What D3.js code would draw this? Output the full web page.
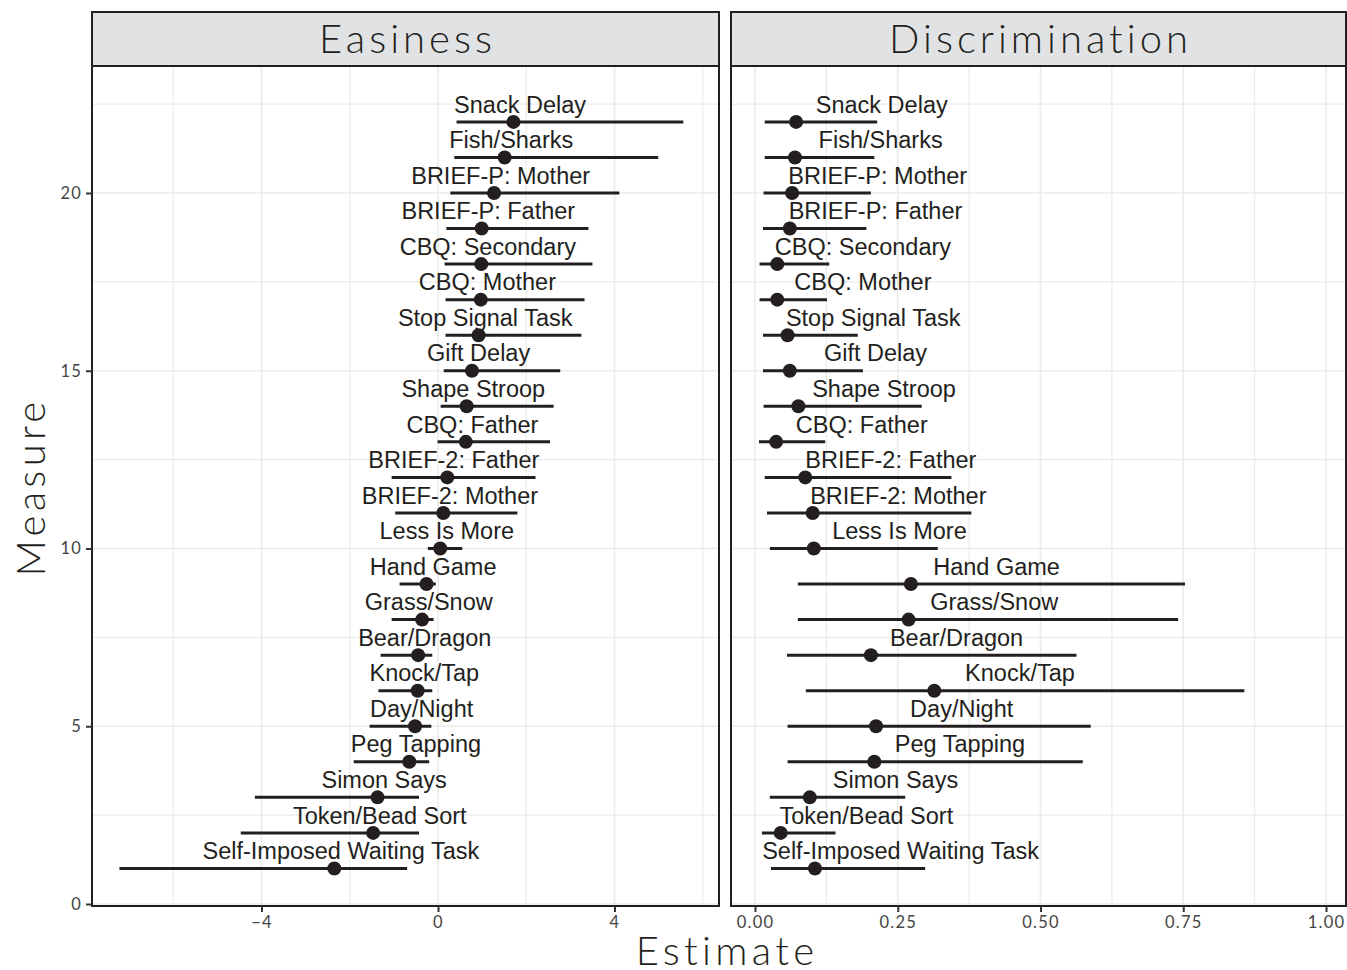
<!DOCTYPE html>
<html>
<head>
<meta charset="UTF-8" />
<style>
  body { margin: 0; background: #fff; }
  .lab { font: 23.5px "Liberation Sans", Arial, sans-serif; fill: #231f20; text-anchor: middle; }
  .tick text { font: 400 16.5px Lato, "Noto Sans", sans-serif; fill: #444; letter-spacing: 1.2px; }
  .strip { font: 300 40px Lato, "Noto Sans", sans-serif; fill: #231f20; text-anchor: middle; letter-spacing: 4px; }
  .title { font: 300 40px Lato, "Noto Sans", sans-serif; fill: #231f20; text-anchor: middle; letter-spacing: 4.3px; }
</style>
<script src="https://d3js.org/d3.v7.min.js"></script>
</head>
<body>
<svg width="1347" height="970"></svg>
<script>
// measures from y = 1 (bottom) to y = 22 (top)
var measures = ["Self-Imposed Waiting Task", "Token/Bead Sort", "Simon Says", "Peg Tapping",
  "Day/Night", "Knock/Tap", "Bear/Dragon", "Grass/Snow", "Hand Game", "Less Is More",
  "BRIEF-2: Mother", "BRIEF-2: Father", "CBQ: Father", "Shape Stroop", "Gift Delay",
  "Stop Signal Task", "CBQ: Mother", "CBQ: Secondary", "BRIEF-P: Father", "BRIEF-P: Mother",
  "Fish/Sharks", "Snack Delay"];

var easeEst = [-2.35, -1.47, -1.37, -0.65, -0.52, -0.46, -0.45, -0.36, -0.26, 0.05, 0.12,
  0.21, 0.63, 0.65, 0.77, 0.92, 0.97, 0.98, 0.99, 1.27, 1.51, 1.71];
var easeLo = [-7.22, -4.47, -4.15, -1.91, -1.55, -1.35, -1.30, -1.05, -0.87, -0.23, -0.97,
  -1.05, -0.01, 0.06, 0.13, 0.17, 0.17, 0.15, 0.19, 0.28, 0.37, 0.42];
var easeHi = [-0.70, -0.43, -0.43, -0.20, -0.15, -0.13, -0.13, -0.10, -0.05, 0.55, 1.80,
  2.21, 2.54, 2.62, 2.77, 3.25, 3.32, 3.50, 3.41, 4.11, 4.99, 5.56];

var discEst = [0.105, 0.045, 0.096, 0.209, 0.212, 0.314, 0.203, 0.269, 0.273, 0.103, 0.101,
  0.088, 0.037, 0.076, 0.061, 0.057, 0.039, 0.039, 0.061, 0.065, 0.070, 0.072];
var discLo = [0.028, 0.012, 0.026, 0.057, 0.057, 0.089, 0.056, 0.075, 0.075, 0.026, 0.021,
  0.017, 0.007, 0.015, 0.014, 0.014, 0.008, 0.008, 0.014, 0.015, 0.017, 0.017];
var discHi = [0.298, 0.141, 0.263, 0.574, 0.588, 0.857, 0.563, 0.741, 0.753, 0.320, 0.379,
  0.344, 0.123, 0.292, 0.189, 0.180, 0.126, 0.130, 0.195, 0.203, 0.209, 0.214];

var yTicks = [0, 5, 10, 15, 20];
var yMinor = [2.5, 7.5, 12.5, 17.5, 22.5];
var easeTicks = [-4, 0, 4];
var easeMinor = [-6, -2, 2, 6];
var discTicks = [0, 0.25, 0.5, 0.75, 1];
var discMinor = [0.125, 0.375, 0.625, 0.875];

var svg = d3.select("svg");
var panelTop = 66, panelBottom = 906, stripTop = 12;
var ink = "#231f20";

var y = d3.scaleLinear().domain([0, 20]).range([904, 193]);

var panels = [
  { name: "Easiness", x0: 92, x1: 719, est: easeEst, lo: easeLo, hi: easeHi,
    ticks: easeTicks, minor: easeMinor, fmt: d3.format("d"), nudge: 0.15,
    x: d3.scaleLinear().domain([-4, 4]).range([261.5, 614.5]) },
  { name: "Discrimination", x0: 731, x1: 1346, est: discEst, lo: discLo, hi: discHi,
    ticks: discTicks, minor: discMinor, fmt: d3.format(".2f"), nudge: 0.15,
    x: d3.scaleLinear().domain([0, 1]).range([755, 1326]) }
];

panels.forEach(function(p) {
  var g = svg.append("g");
  var rows = measures.map(function(m, i) {
    return { m: m, y: i + 1, est: p.est[i], lo: p.lo[i], hi: p.hi[i] };
  });

  // grid
  var grid = g.append("g").attr("stroke", "#ebebeb");
  grid.selectAll(".gy").data(yTicks.concat(yMinor)).enter().append("line")
      .attr("x1", p.x0).attr("x2", p.x1)
      .attr("y1", function(d) { return y(d); }).attr("y2", function(d) { return y(d); })
      .attr("stroke-width", function(d) { return d % 5 === 0 ? 1.6 : 1.2; });
  grid.selectAll(".gx").data(p.ticks.concat(p.minor)).enter().append("line")
      .attr("y1", panelTop).attr("y2", panelBottom)
      .attr("x1", function(d) { return p.x(d); }).attr("x2", function(d) { return p.x(d); })
      .attr("stroke-width", function(d) { return p.ticks.indexOf(d) >= 0 ? 1.6 : 1.2; });

  // intervals
  g.selectAll(".ci").data(rows).enter().append("line")
      .attr("x1", function(d) { return p.x(d.lo); })
      .attr("x2", function(d) { return p.x(d.hi); })
      .attr("y1", function(d) { return y(d.y); })
      .attr("y2", function(d) { return y(d.y); })
      .attr("stroke", ink).attr("stroke-width", 3);

  g.selectAll(".pt").data(rows).enter().append("circle")
      .attr("cx", function(d) { return p.x(d.est); })
      .attr("cy", function(d) { return y(d.y); })
      .attr("r", 7).attr("fill", ink);

  g.selectAll(".lab").data(rows).enter().append("text")
      .attr("class", "lab")
      .attr("x", function(d) { return p.x(d.est + p.nudge); })
      .attr("y", function(d) { return y(d.y + 0.5); })
      .attr("dy", "0.36em")
      .text(function(d) { return d.m; });

  // panel border and strip
  g.append("rect").attr("x", p.x0).attr("y", panelTop).attr("width", p.x1 - p.x0)
      .attr("height", panelBottom - panelTop).attr("fill", "none").attr("stroke", ink).attr("stroke-width", 2);
  g.append("rect").attr("x", p.x0).attr("y", stripTop).attr("width", p.x1 - p.x0)
      .attr("height", panelTop - stripTop).attr("fill", "#e1e2e4").attr("stroke", ink).attr("stroke-width", 2);
  g.append("text").attr("class", "strip")
      .attr("x", (p.x0 + p.x1) / 2 + 2).attr("y", 53).text(p.name);

  // x axis
  g.append("g").attr("transform", "translate(0," + panelBottom + ")")
      .call(d3.axisBottom(p.x).tickValues(p.ticks).tickFormat(p.fmt).tickSize(6).tickPadding(4))
      .call(function(a) {
        a.select(".domain").remove();
        a.selectAll(".tick line").attr("stroke", "#333").attr("stroke-width", 2);
      });
});

// y axis
svg.append("g").attr("transform", "translate(92,0)")
   .call(d3.axisLeft(y).tickValues(yTicks).tickFormat(d3.format("d")).tickSize(6).tickPadding(4))
   .call(function(a) {
     a.select(".domain").remove();
     a.selectAll(".tick line").attr("stroke", "#333").attr("stroke-width", 2);
   });

svg.append("text").attr("class", "title").attr("x", 727).attr("y", 965).text("Estimate");
svg.append("text").attr("class", "title")
   .attr("transform", "translate(45,487) rotate(-90)").text("Measure");
</script>
</body>
</html>
